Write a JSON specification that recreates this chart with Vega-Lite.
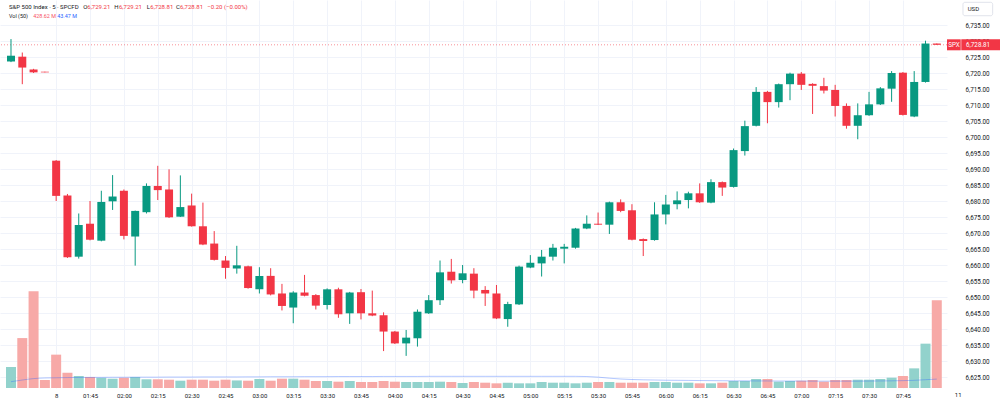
{
  "$schema": "https://vega.github.io/schema/vega-lite/v6.json",
  "width": 947,
  "height": 388,
  "autosize": {"type": "none"},
  "padding": {"left": 0, "top": 0, "right": 53, "bottom": 16},
  "background": "#ffffff",
  "config": {"view": {"stroke": null}, "font": "Roboto"},
  "datasets": {
    "bars": [
      {"i": 0, "o": 6723.6, "h": 6730.6, "l": 6723.4, "c": 6725.4, "v": 102.6, "ma": 30.8},
      {"i": 1, "o": 6725.1, "h": 6726.4, "l": 6716.5, "c": 6721.7, "v": 244, "ma": 39},
      {"i": 2, "o": 6721.1, "h": 6721.3, "l": 6720.0, "c": 6720.2, "v": 472.6, "ma": 46},
      {"i": 3, "o": 6720.4, "h": 6720.4, "l": 6720.2, "c": 6720.2, "v": 39, "ma": 49},
      {"i": 4, "o": 6692.6, "h": 6692.8, "l": 6680.0, "c": 6681.6, "v": 163, "ma": 50},
      {"i": 5, "o": 6681.7, "h": 6682.2, "l": 6662.2, "c": 6662.4, "v": 75, "ma": 51},
      {"i": 6, "o": 6662.6, "h": 6676.1, "l": 6662.0, "c": 6672.5, "v": 58.6, "ma": 51.5},
      {"i": 7, "o": 6672.9, "h": 6680.0, "l": 6667.7, "c": 6667.9, "v": 53.8, "ma": 52},
      {"i": 8, "o": 6667.6, "h": 6683.2, "l": 6667.4, "c": 6679.7, "v": 50, "ma": 52},
      {"i": 9, "o": 6679.9, "h": 6688.1, "l": 6677.2, "c": 6681.4, "v": 45.5, "ma": 52.5},
      {"i": 10, "o": 6683.2, "h": 6683.6, "l": 6668.0, "c": 6669.1, "v": 50, "ma": 52.5},
      {"i": 11, "o": 6668.9, "h": 6677.0, "l": 6659.8, "c": 6676.9, "v": 53.8, "ma": 53},
      {"i": 12, "o": 6676.5, "h": 6685.5, "l": 6676.1, "c": 6684.7, "v": 42.5, "ma": 53},
      {"i": 13, "o": 6684.7, "h": 6691.0, "l": 6680.3, "c": 6683.4, "v": 42.5, "ma": 53},
      {"i": 14, "o": 6683.6, "h": 6689.9, "l": 6674.7, "c": 6674.9, "v": 40.6, "ma": 53.5},
      {"i": 15, "o": 6675.1, "h": 6688.0, "l": 6675.0, "c": 6678.1, "v": 35.7, "ma": 53.5},
      {"i": 16, "o": 6678.6, "h": 6682.3, "l": 6672.0, "c": 6672.1, "v": 40.6, "ma": 53.5},
      {"i": 17, "o": 6672.1, "h": 6679.5, "l": 6666.2, "c": 6666.4, "v": 40.6, "ma": 54},
      {"i": 18, "o": 6666.7, "h": 6670.6, "l": 6661.4, "c": 6661.6, "v": 35.7, "ma": 54},
      {"i": 19, "o": 6661.4, "h": 6662.8, "l": 6655.7, "c": 6659.1, "v": 40.6, "ma": 54},
      {"i": 20, "o": 6658.9, "h": 6666.0, "l": 6657.3, "c": 6659.9, "v": 37, "ma": 54},
      {"i": 21, "o": 6659.6, "h": 6659.8, "l": 6652.6, "c": 6652.8, "v": 35.7, "ma": 54.5},
      {"i": 22, "o": 6652.4, "h": 6659.3, "l": 6651.1, "c": 6656.6, "v": 44, "ma": 54.5},
      {"i": 23, "o": 6656.6, "h": 6659.0, "l": 6650.5, "c": 6650.8, "v": 35.7, "ma": 55},
      {"i": 24, "o": 6651.1, "h": 6654.1, "l": 6645.8, "c": 6647.2, "v": 45.6, "ma": 55},
      {"i": 25, "o": 6646.7, "h": 6651.8, "l": 6641.8, "c": 6651.4, "v": 45.6, "ma": 55},
      {"i": 26, "o": 6651.4, "h": 6656.9, "l": 6650.2, "c": 6650.4, "v": 40.6, "ma": 55.5},
      {"i": 27, "o": 6650.6, "h": 6650.9, "l": 6646.1, "c": 6647.3, "v": 34.2, "ma": 55.5},
      {"i": 28, "o": 6647.5, "h": 6652.7, "l": 6646.1, "c": 6652.4, "v": 34.2, "ma": 55.5},
      {"i": 29, "o": 6652.4, "h": 6652.9, "l": 6643.5, "c": 6644.6, "v": 30.9, "ma": 56},
      {"i": 30, "o": 6644.9, "h": 6651.6, "l": 6641.6, "c": 6651.4, "v": 34.2, "ma": 56},
      {"i": 31, "o": 6651.5, "h": 6652.5, "l": 6643.0, "c": 6644.9, "v": 29.3, "ma": 56},
      {"i": 32, "o": 6644.9, "h": 6652.0, "l": 6644.0, "c": 6644.2, "v": 29.3, "ma": 56},
      {"i": 33, "o": 6644.3, "h": 6645.2, "l": 6633.1, "c": 6639.2, "v": 34.2, "ma": 56.5},
      {"i": 34, "o": 6639.2, "h": 6639.4, "l": 6635.3, "c": 6635.5, "v": 30.9, "ma": 56.5},
      {"i": 35, "o": 6635.5, "h": 6639.7, "l": 6631.6, "c": 6637.3, "v": 29.3, "ma": 56.5},
      {"i": 36, "o": 6637.1, "h": 6646.1, "l": 6634.5, "c": 6645.4, "v": 29.3, "ma": 56.5},
      {"i": 37, "o": 6644.9, "h": 6650.6, "l": 6644.7, "c": 6649.0, "v": 29.3, "ma": 57},
      {"i": 38, "o": 6649.0, "h": 6661.4, "l": 6647.5, "c": 6657.7, "v": 30.9, "ma": 57},
      {"i": 39, "o": 6657.9, "h": 6661.9, "l": 6654.2, "c": 6655.2, "v": 29.3, "ma": 57},
      {"i": 40, "o": 6655.3, "h": 6660.0, "l": 6654.3, "c": 6657.4, "v": 24.4, "ma": 57},
      {"i": 41, "o": 6657.3, "h": 6659.0, "l": 6649.6, "c": 6652.0, "v": 29.3, "ma": 57},
      {"i": 42, "o": 6652.2, "h": 6653.4, "l": 6647.2, "c": 6651.1, "v": 26, "ma": 57},
      {"i": 43, "o": 6651.1, "h": 6653.75, "l": 6643.1, "c": 6643.3, "v": 22.8, "ma": 57},
      {"i": 44, "o": 6643.1, "h": 6648.5, "l": 6640.7, "c": 6647.8, "v": 26, "ma": 57},
      {"i": 45, "o": 6647.7, "h": 6659.8, "l": 6647.5, "c": 6659.5, "v": 22.8, "ma": 57},
      {"i": 46, "o": 6659.2, "h": 6663.1, "l": 6659.0, "c": 6660.7, "v": 22.8, "ma": 57},
      {"i": 47, "o": 6660.5, "h": 6664.7, "l": 6656.4, "c": 6662.6, "v": 29.3, "ma": 57},
      {"i": 48, "o": 6662.6, "h": 6666.6, "l": 6661.4, "c": 6665.4, "v": 26, "ma": 57},
      {"i": 49, "o": 6665.1, "h": 6666.6, "l": 6660.5, "c": 6665.7, "v": 26, "ma": 57},
      {"i": 50, "o": 6665.4, "h": 6671.6, "l": 6665.1, "c": 6671.4, "v": 22.8, "ma": 57},
      {"i": 51, "o": 6671.4, "h": 6675.5, "l": 6671.2, "c": 6672.9, "v": 26, "ma": 56},
      {"i": 52, "o": 6672.9, "h": 6676.4, "l": 6672.5, "c": 6672.6, "v": 29.3, "ma": 53},
      {"i": 53, "o": 6672.6, "h": 6679.8, "l": 6669.7, "c": 6679.6, "v": 29.3, "ma": 48},
      {"i": 54, "o": 6679.6, "h": 6680.5, "l": 6676.5, "c": 6676.9, "v": 26, "ma": 44},
      {"i": 55, "o": 6677.1, "h": 6679.0, "l": 6667.7, "c": 6667.9, "v": 26, "ma": 41.5},
      {"i": 56, "o": 6668.1, "h": 6668.3, "l": 6662.8, "c": 6667.5, "v": 26, "ma": 40},
      {"i": 57, "o": 6667.8, "h": 6679.6, "l": 6667.6, "c": 6675.8, "v": 29.3, "ma": 39},
      {"i": 58, "o": 6675.8, "h": 6681.9, "l": 6672.7, "c": 6678.9, "v": 29.3, "ma": 38},
      {"i": 59, "o": 6679.0, "h": 6683.0, "l": 6677.4, "c": 6680.2, "v": 26, "ma": 37.5},
      {"i": 60, "o": 6680.3, "h": 6682.9, "l": 6677.7, "c": 6682.4, "v": 26, "ma": 37},
      {"i": 61, "o": 6682.4, "h": 6685.5, "l": 6679.4, "c": 6679.6, "v": 22.8, "ma": 36.5},
      {"i": 62, "o": 6679.5, "h": 6686.8, "l": 6679.3, "c": 6685.9, "v": 22.8, "ma": 36},
      {"i": 63, "o": 6685.9, "h": 6686.1, "l": 6681.6, "c": 6684.2, "v": 26, "ma": 35.5},
      {"i": 64, "o": 6684.4, "h": 6696.4, "l": 6684.2, "c": 6695.9, "v": 34.2, "ma": 35},
      {"i": 65, "o": 6695.6, "h": 6705.1, "l": 6694.2, "c": 6703.4, "v": 34.2, "ma": 35},
      {"i": 66, "o": 6703.5, "h": 6715.6, "l": 6703.3, "c": 6714.1, "v": 44, "ma": 34.5},
      {"i": 67, "o": 6714.1, "h": 6714.4, "l": 6704.3, "c": 6710.9, "v": 44, "ma": 34.5},
      {"i": 68, "o": 6710.9, "h": 6716.7, "l": 6709.2, "c": 6716.5, "v": 31, "ma": 34},
      {"i": 69, "o": 6716.5, "h": 6720.1, "l": 6711.5, "c": 6719.8, "v": 34.2, "ma": 34},
      {"i": 70, "o": 6719.8, "h": 6720.3, "l": 6714.7, "c": 6716.3, "v": 35.7, "ma": 34},
      {"i": 71, "o": 6716.6, "h": 6716.8, "l": 6707.2, "c": 6716.0, "v": 39, "ma": 33.5},
      {"i": 72, "o": 6715.9, "h": 6718.5, "l": 6713.6, "c": 6714.5, "v": 31, "ma": 33.5},
      {"i": 73, "o": 6714.7, "h": 6716.3, "l": 6706.4, "c": 6709.7, "v": 39, "ma": 33.5},
      {"i": 74, "o": 6709.7, "h": 6710.5, "l": 6702.6, "c": 6703.5, "v": 39, "ma": 33.5},
      {"i": 75, "o": 6703.5, "h": 6710.5, "l": 6699.3, "c": 6706.8, "v": 40.6, "ma": 33.5},
      {"i": 76, "o": 6706.8, "h": 6714.1, "l": 6706.6, "c": 6710.2, "v": 40.6, "ma": 34},
      {"i": 77, "o": 6710.2, "h": 6715.6, "l": 6710.0, "c": 6715.2, "v": 44, "ma": 34.5},
      {"i": 78, "o": 6715.1, "h": 6720.6, "l": 6711.0, "c": 6720.0, "v": 50.5, "ma": 35},
      {"i": 79, "o": 6720.1, "h": 6720.3, "l": 6706.7, "c": 6706.9, "v": 58.6, "ma": 36},
      {"i": 80, "o": 6706.4, "h": 6720.6, "l": 6706.2, "c": 6717.2, "v": 96, "ma": 37.5},
      {"i": 81, "o": 6717.2, "h": 6730.1, "l": 6717.0, "c": 6729.21, "v": 216.7, "ma": 40.5},
      {"i": 82, "o": 6729.21, "h": 6729.21, "l": 6728.81, "c": 6728.81, "v": 428.62, "ma": 43.47}
    ],
    "last": [{"symbol": "SPX", "price": 6728.81, "label": "6,728.81"}]
  },
  "layer": [
    {
      "data": {"name": "bars"},
      "layer": [
        {
          "mark": {"type": "bar", "width": 10},
          "encoding": {
            "x": {
              "field": "i",
              "type": "quantitative",
              "scale": {"domain": [-0.974, 82.905], "nice": false, "zero": false, "padding": 0},
              "axis": {
                "title": null,
                "values": [4, 7, 10, 13, 16, 19, 22, 25, 28, 31, 34, 37, 40, 43, 46, 49, 52, 55, 58, 61, 64, 67, 70, 73, 76, 79],
                "tickCount": 200,
                "labelExpr": "datum.value == 4 ? '8' : timeFormat(datetime(2025, 9, 8, 1, 30 + (datum.value - 4) * 5), '%H:%M')",
                "grid": true,
                "gridColor": "#f0f3fa",
                "domain": false,
                "ticks": false,
                "labelPadding": 4,
                "labelFontSize": 6,
                "labelColor": "#131722",
                "labelFlush": false,
                "labelOverlap": false
              }
            },
            "y": {
              "field": "v",
              "type": "quantitative",
              "scale": {"domain": [0, 1896.3], "nice": false, "zero": true},
              "axis": null
            },
            "color": {
              "condition": {"test": "datum.c >= datum.o", "value": "#92d2cc"},
              "value": "#f7a9a7"
            }
          }
        },
        {
          "mark": {"type": "line", "color": "#2962ff", "opacity": 0.35, "strokeWidth": 1, "interpolate": "monotone"},
          "encoding": {
            "x": {"field": "i", "type": "quantitative"},
            "y": {"field": "ma", "type": "quantitative"}
          }
        }
      ]
    },
    {
      "layer": [
        {
          "data": {"name": "last"},
          "mark": {"type": "rule", "color": "#f23645", "opacity": 0.55, "strokeDash": [1, 2], "strokeWidth": 1},
          "encoding": {
            "y": {
              "field": "price",
              "type": "quantitative",
              "scale": {"domain": [6621.5625, 6742.8125], "nice": false, "zero": false, "padding": 0},
              "axis": {
                "title": null,
                "orient": "right",
                "values": [6625, 6630, 6635, 6640, 6645, 6650, 6655, 6660, 6665, 6670, 6675, 6680, 6685, 6690, 6695, 6700, 6705, 6710, 6715, 6720, 6725, 6730, 6735],
                "tickCount": 200,
                "format": ",.2f",
                "grid": true,
                "gridColor": "#f0f3fa",
                "domain": false,
                "ticks": false,
                "labelPadding": 18,
                "labelFontSize": 6.3,
                "labelColor": "#131722",
                "labelAlign": "left",
                "labelBaseline": "middle",
                "labelOverlap": false,
                "labelFlush": false
              }
            }
          }
        },
        {
          "data": {"name": "bars"},
          "mark": {"type": "rule", "strokeWidth": 1},
          "encoding": {
            "x": {"field": "i", "type": "quantitative"},
            "y": {"field": "l", "type": "quantitative"},
            "y2": {"field": "h"},
            "color": {
              "condition": {"test": "datum.c >= datum.o", "value": "#089981"},
              "value": "#f23645"
            }
          }
        },
        {
          "data": {"name": "bars"},
          "mark": {"type": "bar", "width": 8},
          "encoding": {
            "x": {"field": "i", "type": "quantitative"},
            "y": {"field": "o", "type": "quantitative"},
            "y2": {"field": "c"},
            "color": {
              "condition": {"test": "datum.c >= datum.o", "value": "#089981"},
              "value": "#f23645"
            }
          }
        },
        {
          "data": {"name": "last"},
          "mark": {"type": "rect", "color": "#f23645", "yOffset": -5.5, "y2Offset": 5.5},
          "encoding": {
            "x": {"datum": 82.905, "type": "quantitative"},
            "x2": {"datum": 84.12},
            "y": {"field": "price", "type": "quantitative"},
            "y2": {"field": "price"}
          }
        },
        {
          "data": {"name": "last"},
          "mark": {"type": "rect", "color": "#f23645", "yOffset": -5.5, "y2Offset": 5.5},
          "encoding": {
            "x": {"datum": 84.17, "type": "quantitative"},
            "x2": {"datum": 87.7},
            "y": {"field": "price", "type": "quantitative"},
            "y2": {"field": "price"}
          }
        },
        {
          "data": {"name": "last"},
          "mark": {"type": "text", "color": "#ffffff", "fontSize": 6.3, "align": "center", "baseline": "middle"},
          "encoding": {
            "x": {"datum": 83.52, "type": "quantitative"},
            "y": {"field": "price", "type": "quantitative"},
            "text": {"field": "symbol"}
          }
        },
        {
          "data": {"name": "last"},
          "mark": {"type": "text", "color": "#ffffff", "fontSize": 6.3, "align": "left", "baseline": "middle"},
          "encoding": {
            "x": {"datum": 84.59, "type": "quantitative"},
            "y": {"field": "price", "type": "quantitative"},
            "text": {"field": "label"}
          }
        },
        {
          "data": {"values": [{"unit": "USD"}]},
          "mark": {"type": "rect", "fill": "#ffffff", "stroke": "#e0e3eb", "strokeWidth": 1, "cornerRadius": 2},
          "encoding": {
            "x": {"datum": 84.32, "type": "quantitative"},
            "x2": {"datum": 86.95},
            "y": {"datum": 6742.09, "type": "quantitative"},
            "y2": {"datum": 6737.9}
          }
        },
        {
          "data": {"values": [{"unit": "USD"}]},
          "mark": {"type": "text", "color": "#131722", "fontSize": 6, "align": "left", "baseline": "middle"},
          "encoding": {
            "x": {"datum": 84.74, "type": "quantitative"},
            "y": {"datum": 6740.0, "type": "quantitative"},
            "text": {"field": "unit"}
          }
        },
        {
          "data": {"values": [{"day": "11"}]},
          "mark": {"type": "text", "color": "#131722", "fontSize": 6, "align": "center", "baseline": "middle"},
          "encoding": {
            "x": {"datum": 83.9, "type": "quantitative"},
            "y": {"datum": 6619.4, "type": "quantitative"},
            "text": {"field": "day"}
          }
        },
        {
          "data": {"values": [{"t": "S&P 500 Index · 5 · SPCFD"}]},
          "mark": {"type": "text", "color": "#131722", "fontSize": 6, "align": "left", "baseline": "middle"},
          "encoding": {"x": {"datum": -0.177, "type": "quantitative"}, "y": {"datum": 6740.625, "type": "quantitative"}, "text": {"field": "t"}}
        },
        {
          "data": {"values": [{"t": "O"}]},
          "mark": {"type": "text", "color": "#131722", "fontSize": 6, "align": "left", "baseline": "middle"},
          "encoding": {"x": {"datum": 6.404, "type": "quantitative"}, "y": {"datum": 6740.625, "type": "quantitative"}, "text": {"field": "t"}}
        },
        {
          "data": {"values": [{"t": "6,729.21"}]},
          "mark": {"type": "text", "color": "#f23645", "fontSize": 6, "align": "left", "baseline": "middle"},
          "encoding": {"x": {"datum": 6.758, "type": "quantitative"}, "y": {"datum": 6740.625, "type": "quantitative"}, "text": {"field": "t"}}
        },
        {
          "data": {"values": [{"t": "H"}]},
          "mark": {"type": "text", "color": "#131722", "fontSize": 6, "align": "left", "baseline": "middle"},
          "encoding": {"x": {"datum": 9.15, "type": "quantitative"}, "y": {"datum": 6740.625, "type": "quantitative"}, "text": {"field": "t"}}
        },
        {
          "data": {"values": [{"t": "6,729.21"}]},
          "mark": {"type": "text", "color": "#f23645", "fontSize": 6, "align": "left", "baseline": "middle"},
          "encoding": {"x": {"datum": 9.566, "type": "quantitative"}, "y": {"datum": 6740.625, "type": "quantitative"}, "text": {"field": "t"}}
        },
        {
          "data": {"values": [{"t": "L"}]},
          "mark": {"type": "text", "color": "#131722", "fontSize": 6, "align": "left", "baseline": "middle"},
          "encoding": {"x": {"datum": 12.02, "type": "quantitative"}, "y": {"datum": 6740.625, "type": "quantitative"}, "text": {"field": "t"}}
        },
        {
          "data": {"values": [{"t": "6,728.81"}]},
          "mark": {"type": "text", "color": "#f23645", "fontSize": 6, "align": "left", "baseline": "middle"},
          "encoding": {"x": {"datum": 12.34, "type": "quantitative"}, "y": {"datum": 6740.625, "type": "quantitative"}, "text": {"field": "t"}}
        },
        {
          "data": {"values": [{"t": "C"}]},
          "mark": {"type": "text", "color": "#131722", "fontSize": 6, "align": "left", "baseline": "middle"},
          "encoding": {"x": {"datum": 14.61, "type": "quantitative"}, "y": {"datum": 6740.625, "type": "quantitative"}, "text": {"field": "t"}}
        },
        {
          "data": {"values": [{"t": "6,728.81"}]},
          "mark": {"type": "text", "color": "#f23645", "fontSize": 6, "align": "left", "baseline": "middle"},
          "encoding": {"x": {"datum": 14.97, "type": "quantitative"}, "y": {"datum": 6740.625, "type": "quantitative"}, "text": {"field": "t"}}
        },
        {
          "data": {"values": [{"t": "−0.20 (−0.00%)"}]},
          "mark": {"type": "text", "color": "#f23645", "fontSize": 6, "align": "left", "baseline": "middle"},
          "encoding": {"x": {"datum": 17.39, "type": "quantitative"}, "y": {"datum": 6740.625, "type": "quantitative"}, "text": {"field": "t"}}
        },
        {
          "data": {"values": [{"t": "Vol (50)"}]},
          "mark": {"type": "text", "color": "#131722", "fontSize": 5.4, "align": "left", "baseline": "middle"},
          "encoding": {"x": {"datum": -0.177, "type": "quantitative"}, "y": {"datum": 6737.81, "type": "quantitative"}, "text": {"field": "t"}}
        },
        {
          "data": {"values": [{"t": "428.62 M"}]},
          "mark": {"type": "text", "color": "#f7525f", "fontSize": 5.4, "align": "left", "baseline": "middle"},
          "encoding": {"x": {"datum": 1.975, "type": "quantitative"}, "y": {"datum": 6737.81, "type": "quantitative"}, "text": {"field": "t"}}
        },
        {
          "data": {"values": [{"t": "43.47 M"}]},
          "mark": {"type": "text", "color": "#2962ff", "fontSize": 5.4, "align": "left", "baseline": "middle"},
          "encoding": {"x": {"datum": 4.1, "type": "quantitative"}, "y": {"datum": 6737.81, "type": "quantitative"}, "text": {"field": "t"}}
        }
      ]
    }
  ],
  "resolve": {"scale": {"y": "independent"}}
}
